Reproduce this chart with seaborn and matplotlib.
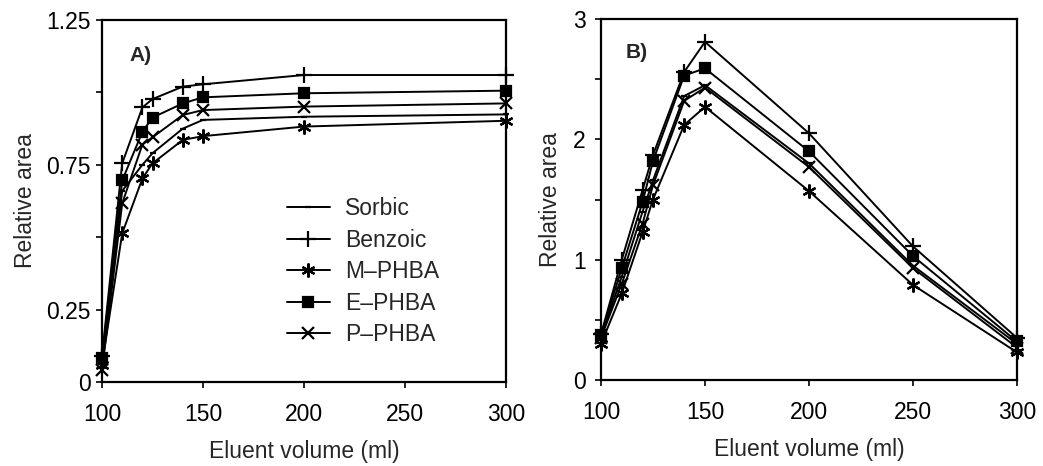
import numpy as np
import pandas as pd
import matplotlib
matplotlib.use("Agg")
import matplotlib.pyplot as plt
import seaborn as sns

compounds = ["Sorbic", "Benzoic", "M\u2013PHBA", "E\u2013PHBA", "P\u2013PHBA"]

# Panel A
xA = [100, 110, 120, 125, 140, 150, 200, 300]
A_sorbic = [0.07, 0.66, 0.75, 0.79, 0.875, 0.905, 0.916, 0.924]
A_benzoic = [0.09, 0.755, 0.948, 0.977, 1.02, 1.028, 1.06, 1.06]
A_mphba = [0.06, 0.513, 0.703, 0.755, 0.836, 0.849, 0.882, 0.902]
A_ephba = [0.083, 0.696, 0.864, 0.913, 0.962, 0.983, 0.997, 1.006]
A_pphba = [0.041, 0.617, 0.82, 0.845, 0.922, 0.939, 0.951, 0.962]

# Panel B
xB = [100, 110, 120, 125, 140, 150, 200, 250, 300]
B_sorbic = [0.36, 0.86, 1.40, 1.66, 2.36, 2.45, 1.80, 0.95, 0.30]
B_benzoic = [0.38, 1.00, 1.58, 1.87, 2.56, 2.81, 2.05, 1.11, 0.35]
B_mphba = [0.30, 0.72, 1.23, 1.50, 2.12, 2.27, 1.57, 0.79, 0.23]
B_ephba = [0.37, 0.93, 1.48, 1.82, 2.53, 2.59, 1.90, 1.03, 0.32]
B_pphba = [0.35, 0.80, 1.30, 1.62, 2.32, 2.43, 1.77, 0.93, 0.27]

xticks = [100, 150, 200, 250, 300]
A_yticks = [0, 0.25, 0.5, 0.75, 1.0, 1.25]
A_yticklabels = ["0", "0.25", "", "0.75", "", "1.25"]
B_yticks = [0, 0.5, 1, 1.5, 2, 2.5, 3]
B_yticklabels = ["0", "", "1", "", "2", "", "3"]

def long_df(x, series):
    rows = []
    for name, vals in zip(compounds, series):
        for xi, yi in zip(x, vals):
            rows.append({"x": xi, "y": yi, "compound": name})
    return pd.DataFrame(rows)

dfA = long_df(xA, [A_sorbic, A_benzoic, A_mphba, A_ephba, A_pphba])
dfB = long_df(xB, [B_sorbic, B_benzoic, B_mphba, B_ephba, B_pphba])

sns.set_style("ticks")
plt.rcParams["font.family"] = ["Liberation Sans", "DejaVu Sans"]

FS = 16.5
asterisk = (6, 2, 0)
markers = {compounds[0]: "_", compounds[1]: "+", compounds[2]: asterisk,
           compounds[3]: "s", compounds[4]: "x"}
sizes = {compounds[0]: 4, compounds[1]: 12, compounds[2]: 10,
         compounds[3]: 7.5, compounds[4]: 8.5}

fig = plt.figure(figsize=(10.43, 4.66), dpi=100)
W, H = 1043, 466
axA = fig.add_axes([102 / W, 1 - 382 / H, (506 - 102) / W, (382 - 20) / H])
axB = fig.add_axes([601 / W, 1 - 380 / H, (1017 - 601) / W, (380 - 19) / H])

for ax, df in [(axA, dfA), (axB, dfB)]:
    for c in compounds:
        sub = df[df["compound"] == c]
        sns.lineplot(data=sub, x="x", y="y", color="black", marker=markers[c],
                     markersize=sizes[c], markeredgewidth=1.6,
                     markeredgecolor="black", markerfacecolor="black",
                     linewidth=1.4, ax=ax, label=c, clip_on=False)
    for s in ax.spines.values():
        s.set_linewidth(1.6)
        s.set_color("black")
    ax.set_xlim(100, 300)
    ax.set_xticks(xticks)
    ax.tick_params(axis="both", direction="out", length=4, width=1.2,
                   labelsize=FS, colors="black")
    ax.tick_params(axis="x", pad=11)
    ax.set_xlabel("Eluent volume (ml)", fontsize=FS, labelpad=10)

axA.set_ylim(0, 1.25)
axA.set_yticks(A_yticks)
axA.set_yticklabels(A_yticklabels)
axA.tick_params(axis="y", pad=4)
axA.set_ylabel("Relative area", fontsize=FS, labelpad=7)
axB.set_ylim(0, 3)
axB.set_yticks(B_yticks)
axB.set_yticklabels(B_yticklabels)
axB.tick_params(axis="y", pad=7)
axB.set_ylabel("Relative area", fontsize=FS, labelpad=8)
axB.get_legend().remove()

axA.text(0.067, 0.903, "A)", transform=axA.transAxes, fontsize=15,
         fontweight="bold", va="center", ha="left")
axB.text(0.058, 0.906, "B)", transform=axB.transAxes, fontsize=15,
         fontweight="bold", va="center", ha="left")

handles, labels = axA.get_legend_handles_labels()
axA.legend(handles, labels, loc="upper left", bbox_to_anchor=(0.457, 0.51),
           frameon=False, fontsize=FS, handlelength=1.9, handletextpad=0.65,
           labelspacing=0.37, borderaxespad=0, borderpad=0)

fig.savefig("out.png", dpi=100)
